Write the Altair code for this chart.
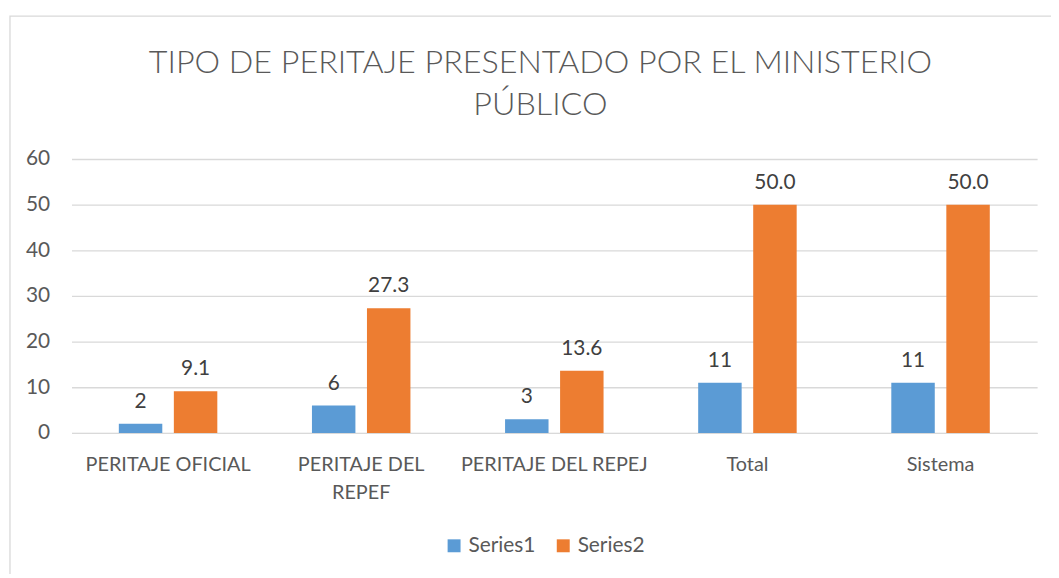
import altair as alt
import pandas as pd

categories = ["PERITAJE OFICIAL", "PERITAJE DEL REPEF", "PERITAJE DEL REPEJ", "Total", "Sistema"]
series_names = ["Series1", "Series2"]
series1 = [2, 6, 3, 11, 11]
series2 = [9.1, 27.3, 13.6, 50.0, 50.0]
labels1 = ["2", "6", "3", "11", "11"]
labels2 = ["9.1", "27.3", "13.6", "50.0", "50.0"]

rows = []
for c, v, l in zip(categories, series1, labels1):
    rows.append({"cat": c, "series": "Series1", "value": v, "label": l})
for c, v, l in zip(categories, series2, labels2):
    rows.append({"cat": c, "series": "Series2", "value": v, "label": l})
df = pd.DataFrame(rows)

FONT = "Lato"
GRAY = "#595959"

x = alt.X("cat:N", sort=categories, title=None,
          scale=alt.Scale(paddingInner=0.49, paddingOuter=0.245),
          axis=alt.Axis(labelAngle=0, labelFontSize=20, labelColor=GRAY, labelFont=FONT,
                        labelPadding=22, ticks=False, domain=True, domainColor="#D9D9D9",
                        labelLineHeight=28, labelBaseline="top", labelLimit=400,
                        labelExpr="datum.label == 'PERITAJE DEL REPEF' ? ['PERITAJE DEL', 'REPEF'] : datum.label"))
xo = alt.XOffset("series:N", sort=series_names,
                 scale=alt.Scale(paddingInner=0.21, paddingOuter=0))
y = alt.Y("value:Q", title=None,
          scale=alt.Scale(domain=[0, 60], nice=False),
          axis=alt.Axis(values=[0, 10, 20, 30, 40, 50, 60], labelFontSize=21, labelColor=GRAY,
                        labelFont=FONT, labelPadding=22, ticks=False, domain=False,
                        gridColor="#D9D9D9", gridWidth=1.3))
color = alt.Color("series:N", sort=series_names,
                  scale=alt.Scale(domain=series_names, range=["#5B9BD5", "#ED7D31"]),
                  legend=alt.Legend(title=None, orient="none", direction="horizontal",
                                    legendX=375, legendY=379, symbolType="square",
                                    symbolSize=170, symbolStrokeWidth=0,
                                    labelFontSize=21, labelColor=GRAY, labelFont=FONT,
                                    columnPadding=17, symbolOffset=0, labelOffset=4))

base = alt.Chart(df)
bars = base.mark_bar().encode(x=x, xOffset=xo, y=y, color=color)
text = base.mark_text(dy=-22, fontSize=21, color="#404040", font=FONT, baseline="middle").encode(
    x=alt.X("cat:N", sort=categories), xOffset=alt.XOffset("series:N", sort=series_names),
    y="value:Q", text="label:N")

frame = alt.Chart(pd.DataFrame({"a": [0]})).mark_rect(fill=None, stroke="#D9D9D9", strokeWidth=1.3).encode(
    x=alt.value(-62), x2=alt.value(1000), y=alt.value(-144), y2=alt.value(600))

chart = alt.layer(frame, bars, text).properties(
    width=973, height=276,
    title=alt.TitleParams(["TIPO DE PERITAJE PRESENTADO POR EL MINISTERIO", "PÚBLICO"],
                          fontSize=32.5, font=FONT, fontWeight=300, color=GRAY, frame="group",
                          anchor="middle", lineHeight=43, offset=-107, dx=-14),
    autosize=alt.AutoSizeParams(type="none"),
    padding={"left": 64, "top": 150, "right": 14, "bottom": 140},
).configure_view(stroke=None)

chart.save("out.html", embed_options={"renderer": "svg", "actions": False})
